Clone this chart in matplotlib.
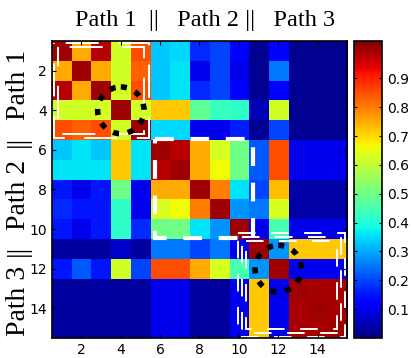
import matplotlib
matplotlib.use('Agg')
import matplotlib.pyplot as plt
import numpy as np
from matplotlib.patches import Rectangle, Circle

# similarity matrix (rows top->bottom, cols left->right)
sim = [
    [1.00, 0.75, 0.98, 0.62, 0.85, 0.33, 0.35, 0.17, 0.20, 0.13, 0.02, 0.12, 0.02, 0.02, 0.02],
    [0.75, 1.00, 0.75, 0.62, 0.83, 0.33, 0.36, 0.10, 0.20, 0.10, 0.02, 0.25, 0.02, 0.02, 0.02],
    [0.98, 0.75, 1.00, 0.62, 0.85, 0.33, 0.36, 0.17, 0.20, 0.12, 0.02, 0.12, 0.02, 0.02, 0.02],
    [0.62, 0.62, 0.62, 1.00, 0.62, 0.72, 0.72, 0.48, 0.43, 0.42, 0.05, 0.62, 0.02, 0.02, 0.02],
    [0.85, 0.83, 0.85, 0.62, 1.00, 0.35, 0.35, 0.10, 0.10, 0.16, 0.02, 0.20, 0.02, 0.02, 0.02],
    [0.33, 0.36, 0.33, 0.72, 0.36, 1.00, 0.98, 0.75, 0.63, 0.50, 0.22, 0.85, 0.10, 0.10, 0.10],
    [0.36, 0.36, 0.36, 0.72, 0.36, 0.98, 1.00, 0.75, 0.66, 0.50, 0.22, 0.85, 0.10, 0.10, 0.10],
    [0.15, 0.10, 0.15, 0.50, 0.10, 0.75, 0.75, 1.00, 0.80, 0.36, 0.20, 0.73, 0.04, 0.04, 0.04],
    [0.17, 0.15, 0.15, 0.42, 0.10, 0.63, 0.66, 0.80, 1.00, 0.28, 0.25, 0.63, 0.04, 0.04, 0.04],
    [0.15, 0.10, 0.15, 0.42, 0.17, 0.50, 0.50, 0.36, 0.28, 1.00, 0.10, 0.45, 0.10, 0.10, 0.10],
    [0.03, 0.03, 0.03, 0.07, 0.03, 0.25, 0.25, 0.20, 0.25, 0.10, 1.00, 0.28, 0.72, 0.72, 0.72],
    [0.15, 0.22, 0.15, 0.62, 0.20, 0.85, 0.85, 0.75, 0.63, 0.45, 0.28, 1.00, 0.10, 0.10, 0.10],
    [0.03, 0.03, 0.03, 0.03, 0.03, 0.10, 0.10, 0.03, 0.03, 0.10, 0.72, 0.10, 1.00, 0.99, 0.99],
    [0.03, 0.03, 0.03, 0.03, 0.03, 0.10, 0.10, 0.03, 0.03, 0.10, 0.72, 0.10, 0.99, 1.00, 0.99],
    [0.03, 0.03, 0.03, 0.03, 0.03, 0.10, 0.10, 0.03, 0.03, 0.10, 0.72, 0.10, 0.99, 0.99, 1.00],
]
ticks = [2, 4, 6, 8, 10, 12, 14]
cb_ticks = [0.1, 0.2, 0.3, 0.4, 0.5, 0.6, 0.7, 0.8, 0.9]
circle_centers = [(4, 4), (12, 12)]
ylabel_parts = ['Path 1', '||', 'Path 2', '||', 'Path 3']
ylabel_pos = [85, 141, 195, 250, 301]   # pixel rows of the label pieces

fig = plt.figure(figsize=(4.11, 3.58), dpi=100)
ax = fig.add_axes([0.1265, 0.0559, 0.7178, 0.8296])
cax = fig.add_axes([0.8613, 0.0559, 0.068, 0.8296])

im = ax.imshow(np.array(sim), cmap='jet', vmin=0.0, vmax=1.03,
               extent=(0.5, 15.5, 15.5, 0.5), aspect='auto', interpolation='nearest')
ax.set_xticks(ticks)
ax.set_yticks(ticks)
ax.tick_params(direction='in', top=True, right=True, labelsize=10, length=3)
for s in ax.spines.values():
    s.set_linewidth(1.2)

# path 1 block: double thin dashed lines
for a, b in [(0.58, 5.42), (0.82, 5.18)]:
    ax.add_patch(Rectangle((a, a), b - a, b - a, fill=False, ec='white', lw=1.4,
                           ls=(21, (17, 10))))
# path 2 block: single thick dashed line
ax.add_patch(Rectangle((5.72, 5.45), 5.0, 5.0, fill=False, ec='white', lw=3,
                       ls=(0, (4.5, 4))))
# path 3 block: triple thin dashed lines
for k in range(3):
    x0 = 9.98 + 0.2 * k
    y0 = 10.22 + 0.2 * k
    x1 = 15.4 - 0.2 * k
    y1 = 15.45 - 0.2 * k
    ax.add_patch(Rectangle((x0, y0), x1 - x0, y1 - y0, fill=False, ec='white', lw=1.4,
                           ls=(0, (9, 8))))
for cx, cy in circle_centers:
    ax.add_patch(Circle((cx, cy), 1.18, fill=False, ec='black', lw=4, ls=(0, (1.1, 1.6))))

cb = fig.colorbar(im, cax=cax, ticks=cb_ticks)
cb.ax.tick_params(direction='in', labelsize=10, length=2, left=True, right=True)
cb.outline.set_linewidth(1.2)

serif = ['Liberation Serif', 'DejaVu Serif']
fig.text(0.5, 0.944, 'Path 1  ||   Path 2 ||   Path 3', ha='center', va='center',
         fontsize=17.5, family=serif)
for part, py in zip(ylabel_parts, ylabel_pos):
    fig.text(0.045, 1 - py / 358, part, ha='center', va='center',
             rotation=90, fontsize=20, family=serif)

fig.savefig('out.png', dpi=100)
